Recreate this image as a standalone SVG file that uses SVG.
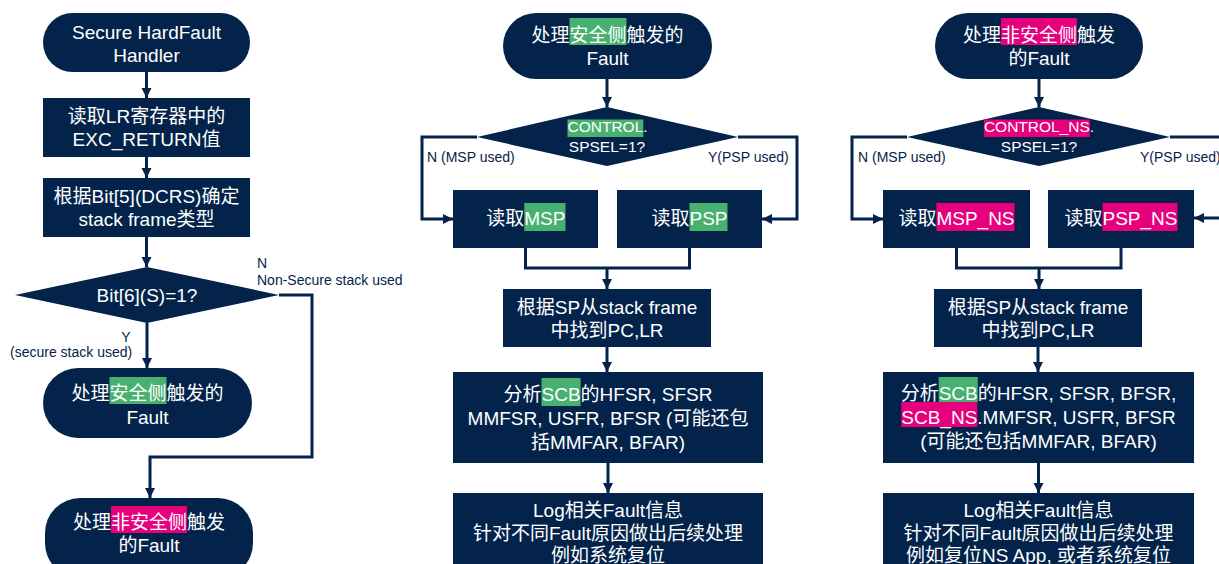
<svg xmlns="http://www.w3.org/2000/svg" width="1219" height="564" viewBox="0 0 1219 564">
<defs>
<style>
.n{fill:#03234B}
.t{font-family:'Liberation Sans',Arial,'Noto Sans CJK SC',sans-serif;font-size:19px;fill:#fff}
.s{font-size:15.5px}
.c{text-anchor:middle}
.lbl{font-family:'Liberation Sans',Arial,'Noto Sans CJK SC',sans-serif;font-size:14px;fill:#03234B}
.g{fill:#49B170}
.m{fill:#E6007E}
.ln{stroke:#03234B;stroke-width:3;fill:none}
</style>
<marker id="ah" markerUnits="userSpaceOnUse" markerWidth="11" markerHeight="11" refX="10" refY="5" orient="auto">
<path d="M0,0 L10,5 L0,10 z" fill="#03234B"/>
</marker>
</defs>
<rect width="1219" height="564" fill="#fff"/>

<g id="connectors">
<path class="ln" marker-end="url(#ah)" d="M146.5,72 V98"/>
<path class="ln" marker-end="url(#ah)" d="M146.5,157 V178"/>
<path class="ln" marker-end="url(#ah)" d="M146.5,237 V267"/>
<path class="ln" marker-end="url(#ah)" d="M147,323 V368"/>
<path class="ln" marker-end="url(#ah)" d="M279,295 H312 V457 H150 V498"/>

<path class="ln" marker-end="url(#ah)" d="M607,79 V107"/>
<path class="ln" marker-end="url(#ah)" d="M477,137 H422 V219 H453"/>
<path class="ln" marker-end="url(#ah)" d="M738,137 H797 V219 H762"/>
<path class="ln" d="M525.5,248 V268 H689.5 V248"/>
<path class="ln" marker-end="url(#ah)" d="M607,268 V289"/>
<path class="ln" marker-end="url(#ah)" d="M607,347 V372"/>
<path class="ln" marker-end="url(#ah)" d="M608,463 V493"/>

<path class="ln" marker-end="url(#ah)" d="M1039,79 V107"/>
<path class="ln" marker-end="url(#ah)" d="M907,137 H852 V219 H883"/>
<path class="ln" d="M1170,137 H1222"/>
<path class="ln" marker-end="url(#ah)" d="M1222,218 H1194"/>
<path class="ln" d="M956.5,248 V268 H1121 V248"/>
<path class="ln" marker-end="url(#ah)" d="M1039,268 V289"/>
<path class="ln" marker-end="url(#ah)" d="M1038,347 V372"/>
<path class="ln" marker-end="url(#ah)" d="M1038.5,463 V493"/>

<text class="lbl" x="257" y="268">N</text>
<text class="lbl" x="257" y="285">Non-Secure stack used</text>
<text class="lbl c" x="126" y="342">Y</text>
<text class="lbl" x="10" y="357">(secure stack used)</text>
<text class="lbl" x="427" y="162">N (MSP used)</text>
<text class="lbl" x="708" y="162">Y(PSP used)</text>
<text class="lbl" x="858" y="162">N (MSP used)</text>
<text class="lbl" x="1140" y="162">Y(PSP used)</text>
</g>

<!-- Left column -->
<g id="L1">
<rect class="n" x="43" y="13" width="207" height="59" rx="29.5"/>
<text class="t c" x="146.5" y="39">Secure HardFault</text>
<text class="t c" x="146.5" y="62">Handler</text>
</g>
<g id="L2">
<rect class="n" x="43" y="98" width="207" height="59"/>
<text class="t c" x="146.5" y="123">读取LR寄存器中的</text>
<text class="t c" x="146.5" y="146">EXC_RETURN值</text>
</g>
<g id="L3">
<rect class="n" x="43" y="178" width="207" height="59"/>
<text class="t c" x="146.5" y="203">根据Bit[5](DCRS)确定</text>
<text class="t c" x="146.5" y="226">stack frame类型</text>
</g>
<g id="L4">
<polygon class="n" points="147,267 279,295 147,323 15,295"/>
<text class="t c" x="147" y="302">Bit[6](S)=1?</text>
</g>
<g id="L5">
<rect class="n" x="43" y="368" width="209" height="70" rx="35"/>
<rect class="g" x="109.5" y="377" width="57" height="27"/>
<text class="t" x="71.5" y="400">处理安全侧触发的</text>
<text class="t c" x="147.5" y="424">Fault</text>
</g>
<g id="L6">
<rect class="n" x="45" y="498" width="208" height="80" rx="35"/>
<rect class="m" x="111" y="506" width="76" height="27"/>
<text class="t" x="73" y="529">处理非安全侧触发</text>
<text class="t c" x="149" y="552">的Fault</text>
</g>

<!-- Middle column -->
<g id="M1">
<rect class="n" x="503" y="13" width="209" height="66" rx="33"/>
<rect class="g" x="569.5" y="18" width="57" height="27"/>
<text class="t" x="531.5" y="42">处理安全侧触发的</text>
<text class="t c" x="607.5" y="65">Fault</text>
</g>
<g id="M2">
<polygon class="n" points="607,107 738,137 607,166 477,137"/>
<rect class="g" x="567.5" y="119.5" width="75.8" height="17.5"/>
<text class="t s" x="567.5" y="132">CONTROL.</text>
<text class="t s c" x="607" y="152">SPSEL=1?</text>
</g>
<g id="M3">
<rect class="n" x="453" y="190" width="145" height="58"/>
<rect class="g" x="524.3" y="203" width="41.2" height="28"/>
<text class="t" x="486.3" y="225">读取MSP</text>
</g>
<g id="M4">
<rect class="n" x="617" y="190" width="145" height="58"/>
<rect class="g" x="689.5" y="203" width="38" height="28"/>
<text class="t" x="651.5" y="225">读取PSP</text>
</g>
<g id="M5">
<rect class="n" x="503" y="289" width="208" height="58"/>
<text class="t c" x="607" y="314">根据SP从stack frame</text>
<text class="t c" x="607" y="337">中找到PC,LR</text>
</g>
<g id="M6">
<rect class="n" x="453" y="372" width="310" height="91"/>
<rect class="g" x="541.5" y="378" width="39.1" height="28"/>
<text class="t" x="503.5" y="401">分析SCB的HFSR, SFSR</text>
<text class="t c" x="608" y="425">MMFSR, USFR, BFSR (可能还包</text>
<text class="t c" x="608" y="449">括MMFAR, BFAR)</text>
</g>
<g id="M7">
<rect class="n" x="453" y="493" width="310" height="90"/>
<text class="t c" x="608" y="517">Log相关Fault信息</text>
<text class="t c" x="608" y="540">针对不同Fault原因做出后续处理</text>
<text class="t c" x="608" y="562">例如系统复位</text>
</g>

<!-- Right column -->
<g id="R1">
<rect class="n" x="935" y="13" width="208" height="66" rx="33"/>
<rect class="m" x="1001" y="18" width="76" height="27"/>
<text class="t" x="963" y="42">处理非安全侧触发</text>
<text class="t c" x="1039" y="65">的Fault</text>
</g>
<g id="R2">
<polygon class="n" points="1039,107 1170,137 1039,166 907,137"/>
<rect class="m" x="983.9" y="119.5" width="105.9" height="17.5"/>
<text class="t s" x="983.9" y="132">CONTROL_NS.</text>
<text class="t s c" x="1039" y="152">SPSEL=1?</text>
</g>
<g id="R3">
<rect class="n" x="883" y="190" width="147" height="58"/>
<rect class="m" x="936.4" y="203" width="78.1" height="28"/>
<text class="t" x="898.4" y="225">读取MSP_NS</text>
</g>
<g id="R4">
<rect class="n" x="1048" y="190" width="146" height="58"/>
<rect class="m" x="1102.5" y="203" width="75" height="28"/>
<text class="t" x="1064.5" y="225">读取PSP_NS</text>
</g>
<g id="R5">
<rect class="n" x="934" y="289" width="208" height="58"/>
<text class="t c" x="1038" y="314">根据SP从stack frame</text>
<text class="t c" x="1038" y="337">中找到PC,LR</text>
</g>
<g id="R6">
<rect class="n" x="883" y="372" width="311" height="91"/>
<rect class="g" x="938.7" y="377" width="39.1" height="25"/>
<rect class="m" x="901.3" y="402" width="76" height="25"/>
<text class="t" x="900.7" y="400">分析SCB的HFSR, SFSR, BFSR,</text>
<text class="t" x="901.3" y="424">SCB_NS.MMFSR, USFR, BFSR</text>
<text class="t c" x="1038.5" y="448">(可能还包括MMFAR, BFAR)</text>
</g>
<g id="R7">
<rect class="n" x="883" y="493" width="311" height="90"/>
<text class="t c" x="1038.5" y="517">Log相关Fault信息</text>
<text class="t c" x="1038.5" y="540">针对不同Fault原因做出后续处理</text>
<text class="t c" x="1038.5" y="562">例如复位NS App, 或者系统复位</text>
</g>
</svg>
